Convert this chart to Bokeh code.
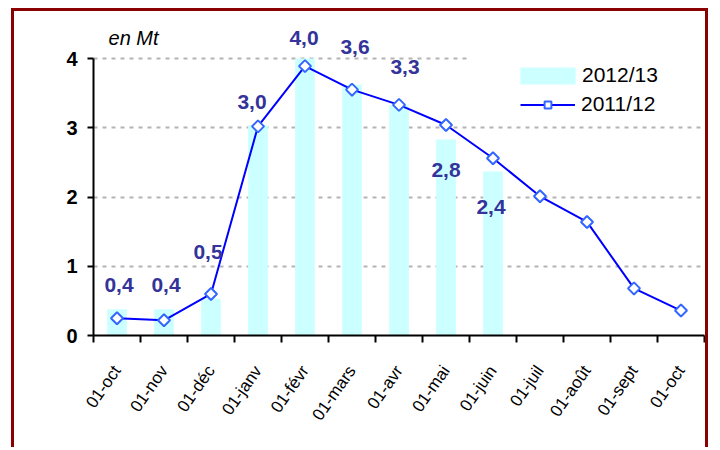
import numpy as np
from bokeh.plotting import figure
from bokeh.models import (Range1d, FixedTicker, LabelSet, Label, ColumnDataSource,
                          BoxAnnotation, Legend, LegendItem)
from bokeh.core.properties import value
from bokeh.embed import file_html
from bokeh.resources import INLINE

# ---- data ----
months = ["01-oct", "01-nov", "01-déc", "01-janv", "01-févr", "01-mars", "01-avr",
          "01-mai", "01-juin", "01-juil", "01-août", "01-sept", "01-oct"]
series_2012_13 = [0.38, 0.38, 0.53, 3.04, 4.0, 3.62, 3.33, 2.83, 2.37]
series_2011_12 = [0.25, 0.22, 0.60, 3.02, 3.89, 3.55, 3.33, 3.04, 2.56, 2.01, 1.64, 0.68, 0.36]
y_ticks = [0, 1, 2, 3, 4]
unit_label = "en Mt"

FONT = "Liberation Sans"

centers = [i + 0.5 for i in range(len(months))]

# layout (pixels)
W, H = 697, 439
B_LEFT, B_RIGHT, B_TOP, B_BOTTOM = 79, 7, 0, 115
AXIS_PX = 277                      # pixel height of the 0..4 axis
frame_h = H - B_TOP - B_BOTTOM
y_top = max(y_ticks) * frame_h / AXIS_PX

p = figure(width=W, height=H, output_backend="svg", toolbar_location=None,
           x_range=Range1d(0, len(months)), y_range=Range1d(0, y_top),
           min_border_left=B_LEFT, min_border_right=B_RIGHT,
           min_border_top=B_TOP, min_border_bottom=B_BOTTOM)
p.styles = {"border-top": "3px solid #8B0000", "border-left": "3px solid #8B0000",
            "border-right": "3px solid #8B0000", "margin-left": "11px", "margin-top": "8px"}
p.outline_line_color = None
p.background_fill_color = "white"
p.border_fill_color = "white"

# grid
p.xgrid.grid_line_color = None
p.ygrid.ticker = FixedTicker(ticks=y_ticks)
p.ygrid.grid_line_color = "#B4B4B4"
p.ygrid.grid_line_width = 2
p.ygrid.grid_line_dash = "4 5"

# white patch behind legend (hides top gridline there)
p.add_layout(BoxAnnotation(left=8, right=13, bottom=3.85, top=4.05,
                           fill_color="white", fill_alpha=1, line_color=None, level="glyph"))

# bars
bars = p.vbar(x=centers[:len(series_2012_13)], top=series_2012_13, width=0.42,
              fill_color="#CCFFFF", line_color=None)
# line
ln = p.line(x=centers, y=series_2011_12, line_color="#0000FF", line_width=2)
sc = p.scatter(x=centers, y=series_2011_12, marker="square", angle=np.pi / 4, size=8.5,
               fill_color="white", line_color="#3366FF", line_width=2)

# axes
xa = p.xaxis[0]
xa.ticker = FixedTicker(ticks=centers, minor_ticks=list(range(len(months) + 1)))
xa.major_label_overrides = {c: m for c, m in zip(centers, months)}
xa.major_tick_out = 0
xa.major_tick_in = 0
xa.minor_tick_out = 7
xa.minor_tick_in = 0
xa.minor_tick_line_color = "black"
xa.minor_tick_line_width = 2
xa.axis_line_color = "black"
xa.axis_line_width = 2
xa.major_label_orientation = np.deg2rad(55)
xa.major_label_text_font = FONT
xa.major_label_text_font_size = "17px"
xa.major_label_text_color = "black"
xa.major_label_standoff = 25

ya = p.yaxis[0]
ya.ticker = FixedTicker(ticks=y_ticks)
ya.bounds = (0, max(y_ticks))
ya.major_tick_out = 6
ya.major_tick_in = 0
ya.minor_tick_out = 0
ya.minor_tick_in = 0
ya.major_tick_line_color = "black"
ya.major_tick_line_width = 2
ya.axis_line_color = "black"
ya.axis_line_width = 2
ya.major_label_text_font = FONT
ya.major_label_text_font_size = "20px"
ya.major_label_text_font_style = "bold"
ya.major_label_text_color = "black"
ya.major_label_standoff = 10

# value labels for 2012/13
lab_text = [f"{v:.1f}".replace(".", ",") for v in series_2012_13]
x_off = [2, 2, -3, -6, -1, 3, 6, 0, -2]
y_off = [24, 24, 47, 23, 21, 38, 38, -30, -36]
src = ColumnDataSource(dict(x=centers[:len(series_2012_13)], y=series_2012_13,
                            text=lab_text, xo=x_off, yo=y_off))
p.add_layout(LabelSet(x="x", y="y", text="text", source=src, x_offset="xo", y_offset="yo",
                      text_align="center", text_baseline="middle", text_font=value(FONT),
                      text_font_size=value("21px"), text_font_style="bold",
                      text_color="#333399"))

p.add_layout(Label(x=0.32, y=4.29, text=unit_label, text_align="left", text_baseline="middle",
                   text_font=FONT, text_font_size="20px", text_font_style="italic",
                   text_color="black"))

legend_common = dict(padding=0, margin=0, spacing=0,
                     label_text_font=FONT, label_text_font_size="21px",
                     label_text_color="black", background_fill_alpha=0,
                     border_line_color=None)
leg_bar = Legend(items=[LegendItem(label="2012/13", renderers=[bars])],
                 location=(420, 248), glyph_width=69, glyph_height=21, label_standoff=0,
                 **legend_common)
leg_line = Legend(items=[LegendItem(label="2011/12", renderers=[ln, sc])],
                  location=(427, 219), glyph_width=55, glyph_height=17, label_standoff=6,
                  **legend_common)
p.add_layout(leg_bar)
p.add_layout(leg_line)

open("out.html", "w").write(file_html(p, INLINE))
